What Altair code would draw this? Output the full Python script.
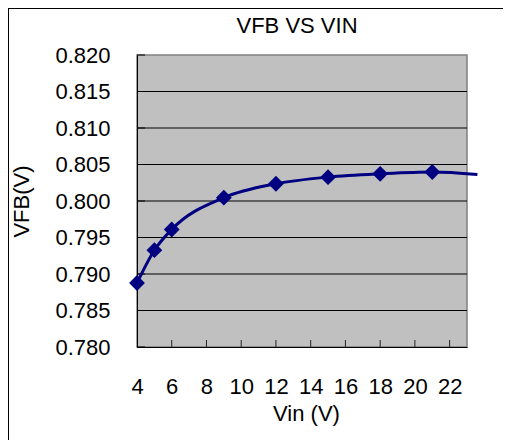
import altair as alt
import pandas as pd

# ---- data ----
title_text = ["VFB VS VIN"]
vin = [4, 5, 6, 9, 12, 15, 18, 21]
vfb = [0.78877, 0.79326, 0.7961, 0.80045, 0.80236, 0.80327, 0.80372, 0.80397]
line_end_vin = [23.6]
line_end_vfb = [0.80363]
x_ticks = [4, 6, 8, 10, 12, 14, 16, 18, 20, 22]
y_ticks = [0.780, 0.785, 0.790, 0.795, 0.800, 0.805, 0.810, 0.815, 0.820]
grid_vals = [0.785, 0.790, 0.795, 0.800, 0.805, 0.810, 0.815]

FONT = "Liberation Sans"
NAVY = "#000080"

pts = pd.DataFrame({"Vin": vin, "VFB": vfb})
line_df = pd.DataFrame({"Vin": vin + line_end_vin, "VFB": vfb + line_end_vfb})

xscale = alt.Scale(domain=[4, 23], nice=False, zero=False)
yscale = alt.Scale(domain=[0.780, 0.820], nice=False, zero=False)

xaxis = alt.Axis(
    values=x_ticks, grid=False, ticks=False, tickSize=0, labelPadding=39,
    labelBaseline="middle", labelFontSize=22, labelFont=FONT, labelColor="black",
    domainColor="black", domainWidth=1, title="Vin (V)", titleFont=FONT,
    titleFontSize=22, titleFontWeight="normal", titleColor="black",
    titleX=169, titleY=66, titleBaseline="middle", titleAlign="center",
    labelFlush=False, labelOverlap=False,
)
yaxis = alt.Axis(
    values=y_ticks, format=".3f", grid=False, ticks=False, tickSize=0,
    labelPadding=27, labelFontSize=22, labelFont=FONT, labelColor="black",
    domainColor="black", domainWidth=1, title="VFB(V)", titleFont=FONT,
    titleFontSize=22, titleFontWeight="normal", titleColor="black",
    titleX=-116, titleY=146, titleBaseline="middle", titleAlign="center",
    titleAngle=270, labelOverlap=False, labelFlush=False,
)

border_top = alt.Chart(pd.DataFrame({"b": [0]})).mark_rule(
    color="black", strokeWidth=1, clip=False
).encode(x=alt.value(-129), x2=alt.value(366), y=alt.value(-46.5))

border_left = alt.Chart(pd.DataFrame({"b": [0]})).mark_rule(
    color="black", strokeWidth=1, clip=False
).encode(x=alt.value(-128.5), y=alt.value(-47), y2=alt.value(385))

title = alt.Chart(pd.DataFrame({"t": title_text})).mark_text(
    font=FONT, fontSize=22, align="center", baseline="alphabetic", color="black"
).encode(x=alt.value(160), y=alt.value(-22), text="t:N")

grid = alt.Chart(pd.DataFrame({"VFB": grid_vals})).mark_rule(
    color="black", strokeWidth=1
).encode(y=alt.Y("VFB:Q", scale=yscale, axis=yaxis))

xtick = alt.Chart(pd.DataFrame({"Vin": x_ticks[1:]})).mark_rule(
    color="#222222", strokeWidth=1
).encode(
    x=alt.X("Vin:Q", scale=xscale, axis=xaxis),
    y=alt.value(292), y2=alt.value(285),
)

ytick = alt.Chart(pd.DataFrame({"VFB": y_ticks})).mark_rule(
    color="black", strokeWidth=1
).encode(
    y=alt.Y("VFB:Q", scale=yscale, axis=yaxis),
    x=alt.value(0), x2=alt.value(8),
)

line = alt.Chart(line_df).mark_line(
    color=NAVY, strokeWidth=3, interpolate="monotone", clip=False
).encode(
    x=alt.X("Vin:Q", scale=xscale, axis=xaxis),
    y=alt.Y("VFB:Q", scale=yscale, axis=yaxis),
)

points = alt.Chart(pts).mark_point(
    shape="diamond", filled=True, size=250, color=NAVY, opacity=1, clip=False
).encode(
    x=alt.X("Vin:Q", scale=xscale, axis=xaxis),
    y=alt.Y("VFB:Q", scale=yscale, axis=yaxis),
)

chart = alt.layer(border_top, border_left, grid, xtick, ytick, line, points, title).properties(
    width=330, height=292,
    autosize=alt.AutoSizeParams(type="none"),
    padding={"left": 129, "top": 47, "right": 36, "bottom": 93},
    background="white",
).configure_view(fill="#C0C0C0", stroke="#808080", strokeWidth=1.5)

chart.save("out.html", embed_options={"renderer": "svg", "actions": False})
